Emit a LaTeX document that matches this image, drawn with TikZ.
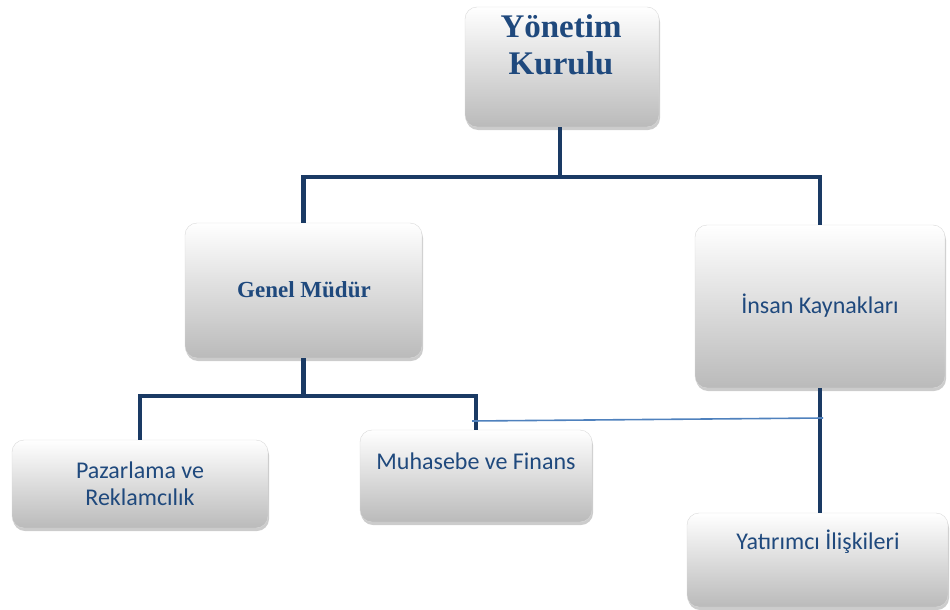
\documentclass[tikz,border=0pt]{standalone}
\usepackage{fontspec}
\setmainfont{Carlito}
\newfontfamily\serifkalin{Liberation Serif}
\usetikzlibrary{shadows}
\definecolor{yazimavi}{RGB}{31,73,125}
\definecolor{hatmavi}{RGB}{26,58,100}
\definecolor{incemavi}{RGB}{79,129,189}

\begin{document}
\begin{tikzpicture}[x=1pt, y=-1pt,
    kutu/.style={rounded corners=12pt, draw=black!15, top color=white, bottom color=black!27,
      drop shadow={shadow xshift=1pt, shadow yshift=-3pt, fill=black!40, opacity=.5}},
    yazi/.style={text=yazimavi, align=center, font=\fontsize{24}{27}\selectfont},
    kalin/.style={text=yazimavi, align=center, font=\serifkalin\bfseries},
    hat/.style={draw=hatmavi, line width=4.5pt},
    ince/.style={draw=incemavi, line width=1.6pt}]
  \useasboundingbox (0,0) rectangle (950,610);
  % kutular
  \node[kutu, minimum width=194pt, minimum height=120pt] (yk) at (562,67) {};
  \node[kutu, minimum width=237pt, minimum height=135pt] (gm) at (303.5,290.5) {};
  \node[kutu, minimum width=250pt, minimum height=163pt] (ik) at (820,306.5) {};
  \node[kutu, minimum width=256pt, minimum height=88pt] (pr) at (140,484) {};
  \node[kutu, minimum width=232pt, minimum height=92pt] (mf) at (476,476) {};
  \node[kutu, minimum width=261pt, minimum height=94pt] (yi) at (817.5,560) {};
  % yazilar
  \node[kalin, font=\serifkalin\bfseries\fontsize{33}{37}\selectfont] (yk-t) at (561,45) {Yönetim\\Kurulu};
  \node[kalin, font=\serifkalin\bfseries\fontsize{23}{26}\selectfont] (gm-t) at (304,290) {Genel Müdür};
  \node[yazi] (ik-t) at (820,306) {İnsan Kaynakları};
  \node[yazi] (pr-t) at (140,484) {Pazarlama ve\\Reklamcılık};
  \node[yazi] (mf-t) at (476,461) {Muhasebe ve Finans};
  \node[yazi] (yi-t) at (818,542) {Yatırımcı İlişkileri};
  % baglantilar
  \coordinate (ust) at (560,177);
  \coordinate (alt) at (303,396);
  \draw[hat] (yk.south -| ust) -- (ust);
  \draw[hat] (gm.north) -- (gm.north |- ust) -| (ik.north);
  \draw[hat] (gm.south) -- (gm.south |- alt);
  \draw[hat] (pr.north) -- (pr.north |- alt) -| (mf.north);
  \draw[hat] (ik.south) -- (ik.south |- yi.north);
  \coordinate (ince-a) at (472,421);
  \coordinate (ince-b) at (823,418);
  \draw[ince] (ince-a) -- (ince-b);
\end{tikzpicture}
\end{document}
